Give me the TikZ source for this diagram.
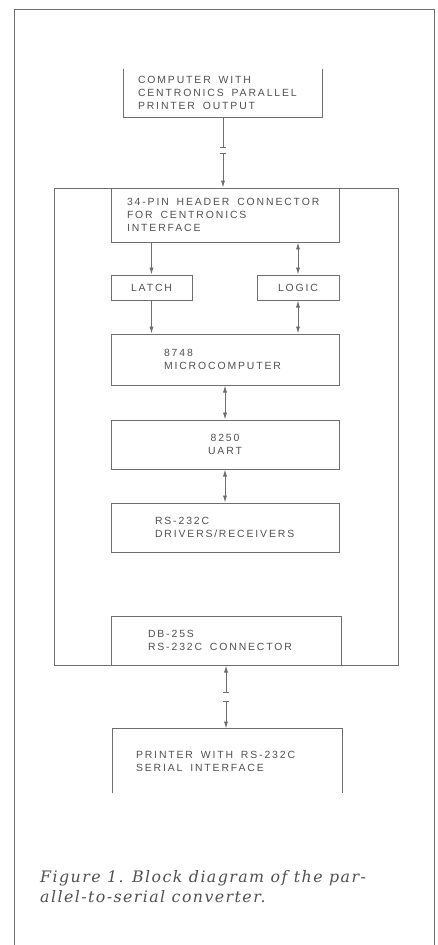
\documentclass[tikz,border=0pt]{standalone}
\usepackage{fontspec}
\usepackage{xcolor}
\usetikzlibrary{arrows.meta}
\definecolor{inkline}{HTML}{6E6E6E}
\definecolor{inktext}{HTML}{505050}
\newfontfamily\letterfont[LetterSpace=18]{Liberation Sans}
\newfontfamily\captionfont[LetterSpace=9]{DejaVu Serif}
\newcommand\gap{\kern0.75em\relax}
\hyphenpenalty=10000
\exhyphenpenalty=10000

\begin{document}
\begin{tikzpicture}[
    box/.style={draw=inkline, line width=0.8pt, align=left, text=inktext,
                font=\letterfont\fontsize{8.9}{11}\selectfont, inner ysep=0pt},
    openbox/.style={box, draw=none},
    wire/.style={draw=inkline, line width=0.8pt},
    arrow/.style={wire, -{Latex[length=6pt,width=3.6pt]}},
    darrow/.style={wire, {Latex[length=6pt,width=3.6pt]}-{Latex[length=6pt,width=3.6pt]}},
    cutin/.style={wire, -{Bar[width=5pt]}},
    cutout/.style={wire, {Bar[width=5pt]}-{Latex[length=6pt,width=3.6pt]}},
    cutboth/.style={wire, {Latex[length=6pt,width=3.6pt]}-{Bar[width=5pt]}},
]
\useasboundingbox (0,0) rectangle (13.14,-28.35);

% Rahmen
\draw[wire] (0.42,-28.35) -- (0.42,-0.27) -- (13.02,-0.27) -- (13.02,-28.35);

% Computer
\node[openbox, minimum width=5.94cm, minimum height=1.44cm, text width=5.1cm, inner xsep=0.42cm] (comp) at (6.69,-2.79) {
    COMPUTER\gap WITH\\
    CENTRONICS\gap PARALLEL\\
    PRINTER\gap OUTPUT
};
\draw[wire] (comp.north west) -- (comp.south west) -- (comp.south east) -- (comp.north east);

% Wandler
\node[box, minimum width=10.32cm, minimum height=14.31cm] (conv) at (6.78,-12.795) {};

\node[box, minimum width=6.84cm, minimum height=1.62cm, text width=5.88cm, inner xsep=0.48cm] (hdr) at (6.75,-6.45) {
    34-PIN\gap HEADER\gap CONNECTOR\\
    FOR\gap CENTRONICS\\
    INTERFACE
};
\node[box, align=center, minimum width=2.43cm, minimum height=0.75cm] (latch) at (4.545,-8.625) {LATCH};
\node[box, align=center, minimum width=2.46cm, minimum height=0.75cm] (logic) at (8.94,-8.625) {LOGIC};
\node[box, minimum width=6.84cm, minimum height=1.53cm, text width=3.66cm, inner xsep=1.59cm] (mcu) at (6.75,-10.785) {
    8748\\
    MICROCOMPUTER
};
\node[box, align=center, minimum width=6.84cm, minimum height=1.47cm] (uart) at (6.75,-13.335) {
    8250\\
    UART
};
\node[box, minimum width=6.84cm, minimum height=1.47cm, text width=4.2cm, inner xsep=1.32cm] (drv) at (6.75,-15.825) {
    RS-232C\\
    DRIVERS\,/\,RECEIVERS
};
\node[box, minimum width=6.9cm, minimum height=1.47cm, text width=4.68cm, inner xsep=1.11cm] (db) at (6.78,-19.215) {
    DB-25S\\
    RS-232C\gap CONNECTOR
};

% Drucker
\node[openbox, minimum width=6.87cm, minimum height=1.92cm, text width=5.49cm, inner xsep=0.69cm] (prn) at (6.825,-22.83) {
    PRINTER\gap WITH\gap RS-232C\\
    SERIAL\gap INTERFACE
};
\draw[wire] (prn.south west) -- (prn.north west) -- (prn.north east) -- (prn.south east);

% Verbindungen
\coordinate (cut1) at ([yshift=-0.9cm]comp.south);
\coordinate (cut2) at ([yshift=-1.08cm]comp.south);
\draw[cutin] (comp.south) -- (cut1);
\draw[cutout] (cut2) -- (cut2 |- hdr.north);

\draw[arrow] (latch |- hdr.south) -- (latch);
\draw[darrow] (logic |- hdr.south) -- (logic);
\draw[arrow] (latch) -- (latch |- mcu.north);
\draw[darrow] (logic) -- (logic |- mcu.north);
\draw[darrow] (mcu) -- (uart);
\draw[darrow] (uart) -- (drv);

\coordinate (cut3) at ([yshift=-0.81cm]db.south);
\coordinate (cut4) at ([yshift=-1.08cm]db.south);
\draw[cutboth] (db.south) -- (cut3);
\draw[cutout] (cut4) -- (cut4 |- prn.north);

% Bildunterschrift
\node[anchor=north west, align=left, inner sep=0pt, text=inktext,
      font=\captionfont\itshape\fontsize{13.5}{17.5}\selectfont] (caption) at (1.2,-26.1) {
    Figure 1. Block diagram of the par-\\
    allel-to-serial converter.
};

\end{tikzpicture}
\end{document}
